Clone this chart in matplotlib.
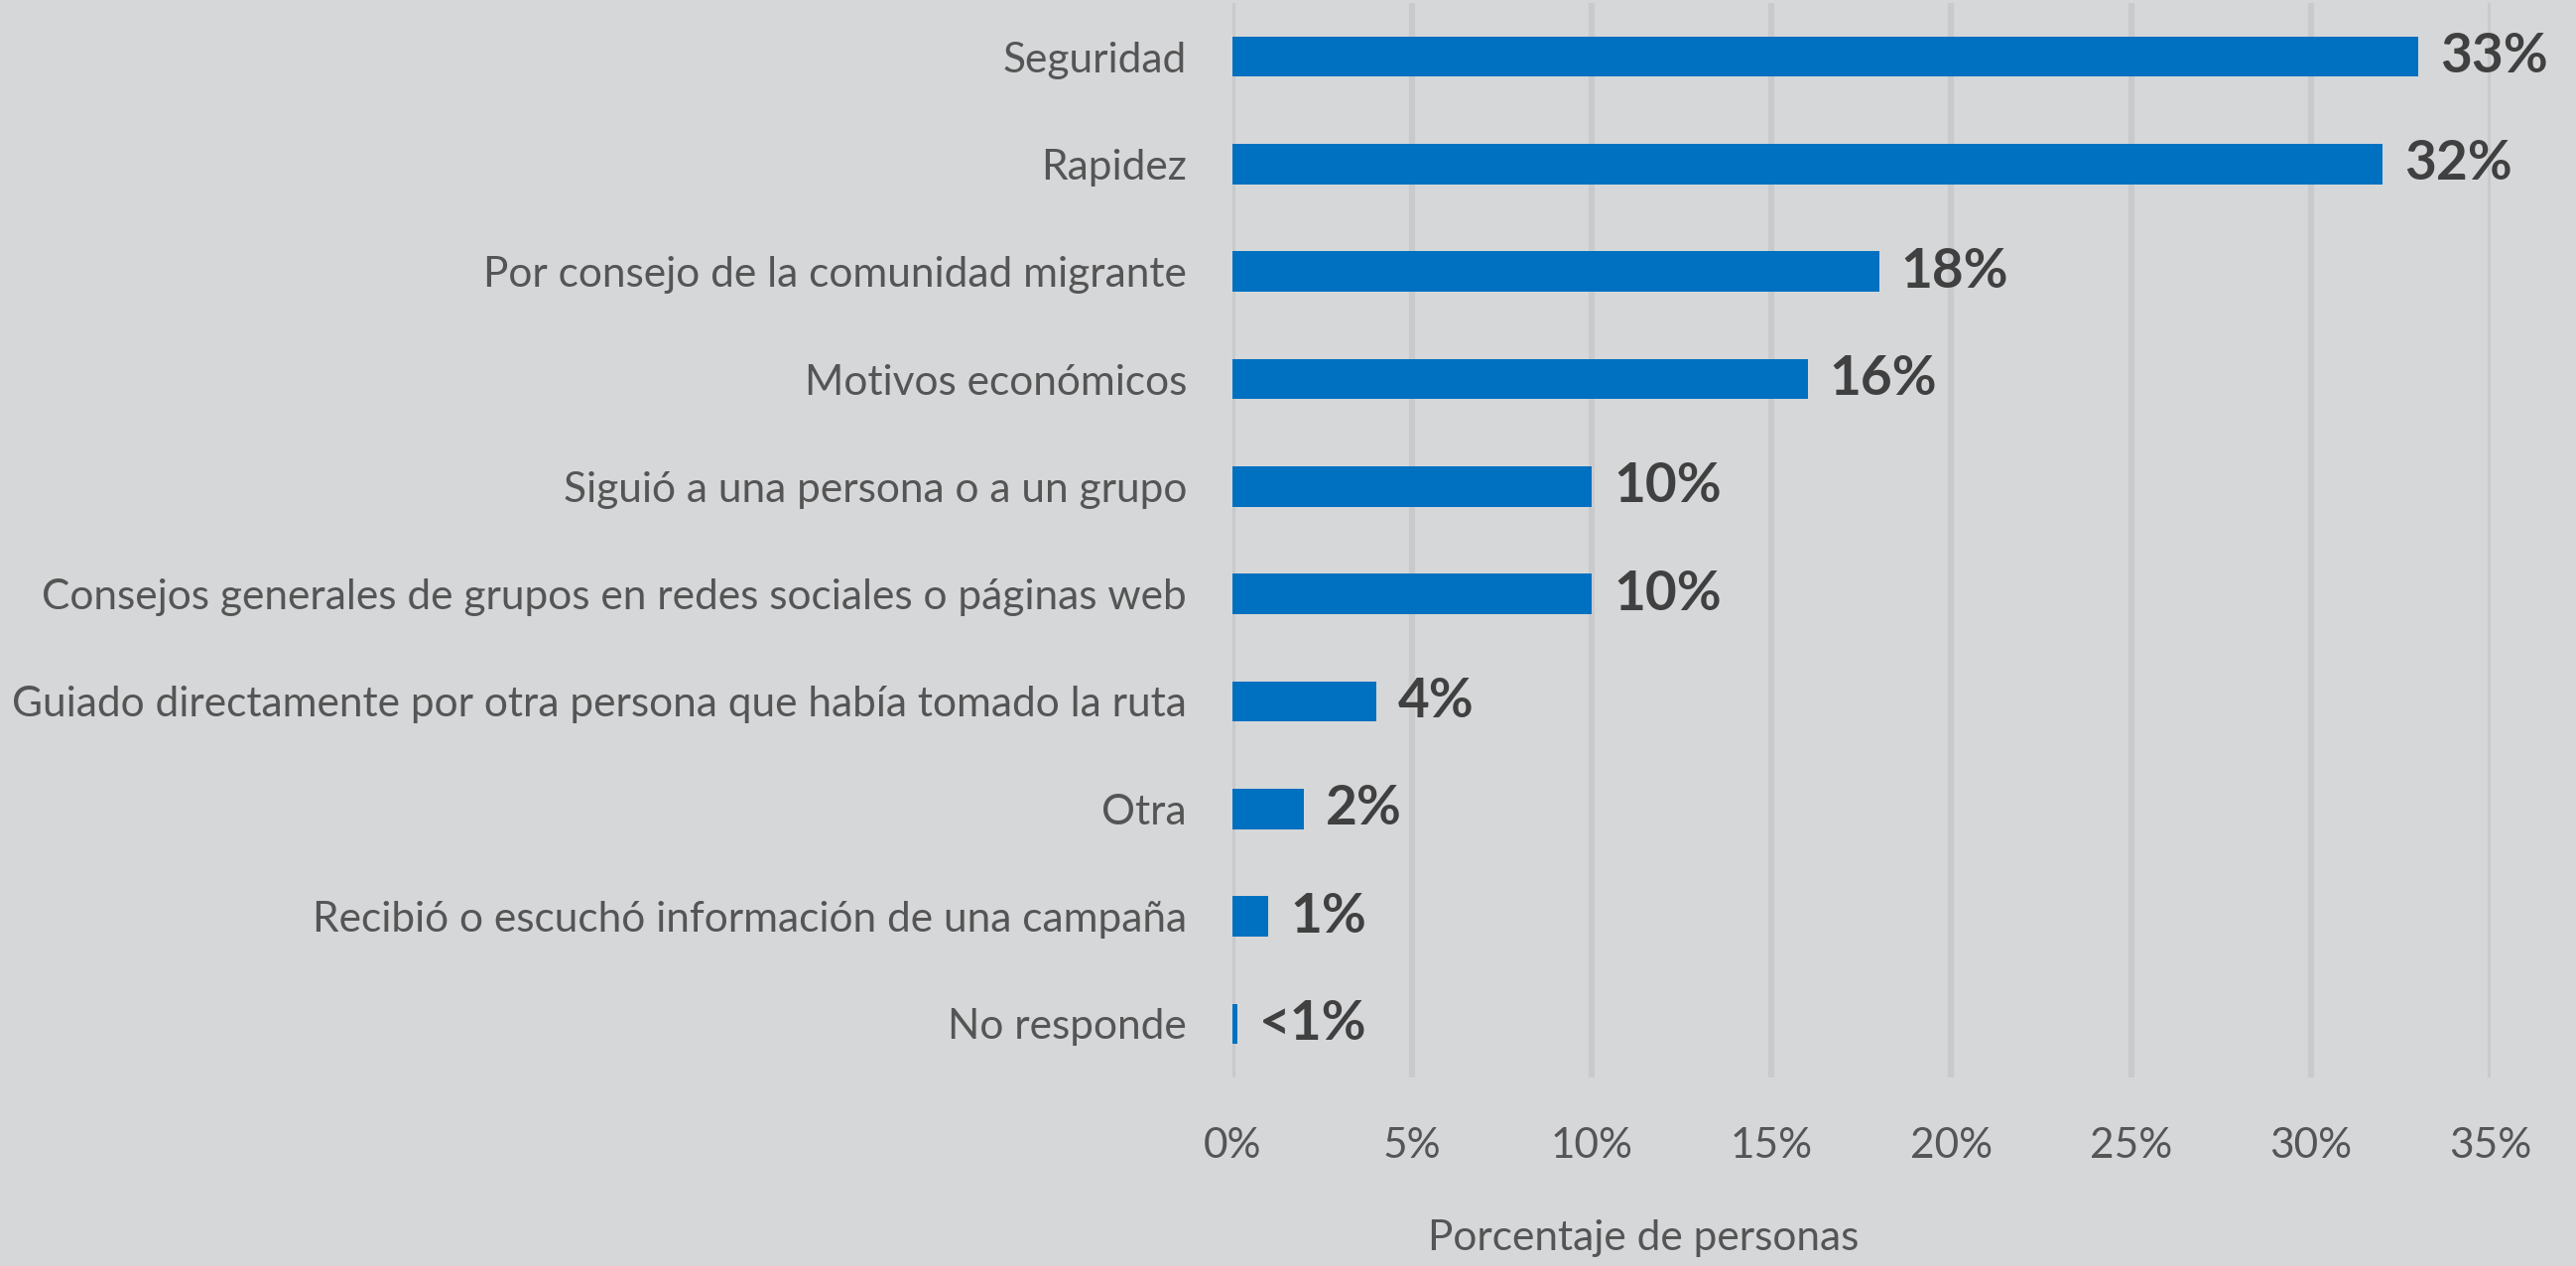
import matplotlib
matplotlib.use("Agg")
import matplotlib.pyplot as plt
import numpy as np

BG = "#d6d7d9"
BAR = "#0070c0"
GRID = "#c9cacc"
TXT = "#555555"
VAL = "#404040"

categories = [
    "Seguridad",
    "Rapidez",
    "Por consejo de la comunidad migrante",
    "Motivos económicos",
    "Siguió a una persona o a un grupo",
    "Consejos generales de grupos en redes sociales o páginas web",
    "Guiado directamente por otra persona que había tomado la ruta",
    "Otra",
    "Recibió o escuchó información de una campaña",
    "No responde",
]
values = [33, 32, 18, 16, 10, 10, 4, 2, 1, 0.15]
value_labels = ["33%", "32%", "18%", "16%", "10%", "10%", "4%", "2%", "1%", "<1%"]
xticks = [0, 5, 10, 15, 20, 25, 30, 35]

plt.rcParams["font.family"] = ["Lato", "DejaVu Sans"]

fig = plt.figure(figsize=(25.96, 12.76), dpi=100, facecolor=BG)
ax = fig.add_axes([0.4784, 0.1489, 0.4884, 0.8488], facecolor=BG)

y = np.arange(len(categories))
ax.barh(y, values, height=0.375, color=BAR, zorder=3)

for yi, v, lab in zip(y, values, value_labels):
    ax.text(v + 0.6, yi, lab, va="center", ha="left", fontsize=39.5,
            fontweight="bold", color=VAL, clip_on=False)

ax.set_xlim(0, 35)
ax.set_ylim(len(categories) - 0.5, -0.5)
ax.set_xticks(xticks)
ax.set_xticklabels([f"{t}%" for t in xticks])
ax.set_yticks(y)
ax.set_yticklabels(categories)
ax.tick_params(axis="both", length=0, labelsize=30.5, labelcolor=TXT)
ax.tick_params(axis="x", pad=36)
ax.tick_params(axis="y", pad=33)

ax.grid(axis="x", color=GRID, linewidth=4.5, zorder=0)
ax.grid(axis="y", visible=False)
for s in ax.spines.values():
    s.set_visible(False)

fig.text(0.638, 0.022, "Porcentaje de personas", ha="center", va="center",
         fontsize=30.5, color=TXT)

fig.savefig("out.png", dpi=100, facecolor=BG)
